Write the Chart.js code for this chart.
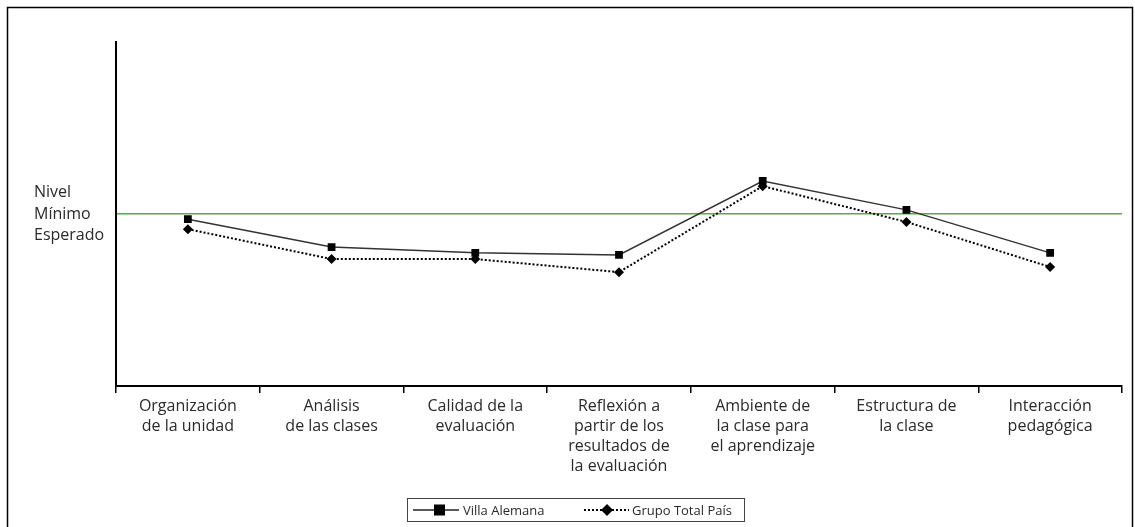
<!DOCTYPE html>
<html>
<head>
<meta charset="utf-8">
<script src="https://cdn.jsdelivr.net/npm/chart.js@4/dist/chart.umd.min.js"></script>
<style>
  body { margin: 0; background: #fff; }
  #wrap { position: relative; width: 1135px; height: 527px; }
  #legend {
    position: absolute; left: 407px; top: 498px; width: 338px; height: 24px;
    border: 1px solid #444; box-sizing: border-box;
    font: 13px "Open Sans", sans-serif; color: #2a2a2a;
  }
  #legend > * { position: absolute; top: 4px; white-space: nowrap; }
  #legend span { top: 2px; }
</style>
</head>
<body>
<div id="wrap">
  <canvas id="chart" width="1135" height="527"></canvas>
  <div id="legend">
    <svg width="50" height="14" style="left:3px"><line x1="2" y1="7" x2="48" y2="7" stroke="#222" stroke-width="1.5"/><rect x="23" y="1.5" width="11" height="11" fill="#000"/></svg>
    <span style="left:55px">Villa Alemana</span>
    <svg width="48" height="14" style="left:175px"><line x1="1" y1="7" x2="46" y2="7" stroke="#000" stroke-width="2" stroke-dasharray="2,2"/><path d="M24 1 L30 7 L24 13 L18 7 Z" fill="#000"/></svg>
    <span style="left:224px">Grupo Total País</span>
  </div>
</div>
<script>
const categorias = [
  ["Organización", "de la unidad"],
  ["Análisis", "de las clases"],
  ["Calidad de la", "evaluación"],
  ["Reflexión a", "partir de los", "resultados de", "la evaluación"],
  ["Ambiente de", "la clase para", "el aprendizaje"],
  ["Estructura de", "la clase"],
  ["Interacción", "pedagógica"]
];
const villaAlemana = [48.5, 40.4, 38.7, 38.1, 59.6, 51.2, 38.7];
const grupoTotalPais = [45.6, 36.9, 36.9, 33.1, 58.1, 47.7, 34.6];
const nivelMinimo = 50;
const etiquetaNivel = ["Nivel", "Mínimo", "Esperado"];

// marco exterior
const marco = {
  id: "marco",
  afterDraw(chart) {
    const ctx = chart.ctx;
    ctx.save();
    ctx.strokeStyle = "#000";
    ctx.lineWidth = 1.5;
    ctx.strokeRect(7.5, 7.5, 1125, 540);
    ctx.restore();
  }
};

const ctx = document.getElementById("chart").getContext("2d");
new Chart(ctx, {
  type: "line",
  data: {
    labels: categorias,
    datasets: [
      {
        label: "Villa Alemana",
        data: villaAlemana,
        borderColor: "#333",
        borderWidth: 1.5,
        pointStyle: "rect",
        pointRadius: 5.5,
        pointBackgroundColor: "#000",
        pointBorderColor: "#000",
        pointBorderWidth: 0
      },
      {
        label: "Grupo Total País",
        data: grupoTotalPais,
        borderColor: "#000",
        borderWidth: 2,
        borderDash: [2, 2],
        pointStyle: "rectRot",
        pointRadius: 5,
        pointBackgroundColor: "#000",
        pointBorderColor: "#000",
        pointBorderWidth: 0
      }
    ]
  },
  options: {
    responsive: false,
    animation: false,
    layout: { padding: { left: 34, top: 42, right: 13, bottom: 0 } },
    plugins: { legend: { display: false }, tooltip: { enabled: false } },
    scales: {
      x: {
        offset: true,
        border: { color: "#000", width: 2 },
        grid: { offset: true, drawOnChartArea: false, drawTicks: true, tickLength: 7, color: "#000", lineWidth: 1.5 },
        ticks: {
          color: "#2a2a2a",
          font: { family: "Open Sans", size: 16, lineHeight: 1.25 },
          maxRotation: 0,
          autoSkip: false,
          padding: 3
        },
        afterFit(scale) { scale.height = 141; }
      },
      y: {
        min: 0,
        max: 100,
        border: { color: "#000", width: 2 },
        grid: {
          drawTicks: false,
          color: "#4db04a",
          lineWidth: 1.5
        },
        afterBuildTicks(scale) { scale.ticks = [{ value: nivelMinimo }]; },
        ticks: {
          crossAlign: "far",
          color: "#2a2a2a",
          font: { family: "Open Sans", size: 16, lineHeight: 1.35 },
          callback: () => etiquetaNivel
        },
        afterFit(scale) { scale.width = 82; }
      }
    }
  },
  plugins: [marco]
});
</script>
</body>
</html>
